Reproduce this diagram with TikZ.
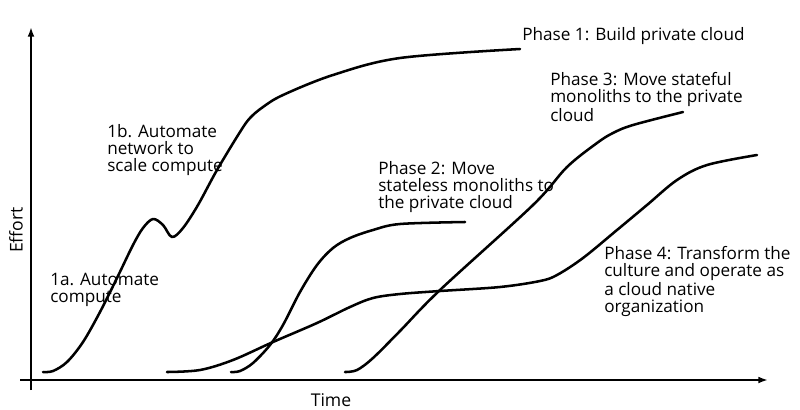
\documentclass[tikz,border=0pt]{standalone}
\usepackage{fontspec}
\setmainfont{Open Sans}
\usetikzlibrary{arrows.meta}
\definecolor{Ink}{RGB}{0,0,0}
\tikzset{
  >=Latex,
  axis/.style={line width=1.5pt,draw=Ink,-{Latex[length=2.4mm,width=1.7mm]}},
  curve/.style={line width=1.8pt,draw=Ink,line cap=round,line join=round},
  note/.style={font=\fontsize{12.2pt}{11.9pt}\selectfont,text=Ink,align=left,inner sep=0pt,anchor=base west},
  axislabel/.style={font=\fontsize{12.5pt}{13pt}\selectfont,text=Ink,inner sep=0pt}
}

\begin{document}
\begin{tikzpicture}[x=0.025cm,y=-0.025cm]
  \useasboundingbox (0,0) rectangle (800,409);
  % axes
  \coordinate (xfrom) at (20,380);
  \coordinate (xto) at (768,380);
  \coordinate (yfrom) at (31,390);
  \coordinate (yto) at (31,27);
  \draw[axis] (xfrom)--(xto);
  \draw[axis] (yfrom)--(yto);
  \node[axislabel,rotate=90] (effort) at (16,230) {Effort};
  \node[axislabel] (time) at (331,400) {Time};
  % phase 1: build private cloud
  \draw[curve] plot[smooth,tension=0.55] coordinates {(43,372) (53,371) (67,362) (83,342) (100,312) (117,278) (133,245) (143,228) (153,219) (163,225) (172,237) (183,228) (198,205) (217,170) (240,132) (250,118) (263,107) (283,95) (333,75) (400,58) (520,49)};
  % phase 2: stateless monoliths
  \draw[curve] plot[smooth,tension=0.55] coordinates {(231,372) (240,371) (253,363) (270,345) (283,325) (300,292) (317,265) (333,248) (350,238) (373,230) (400,224) (465,222)};
  % phase 3: stateful monoliths
  \draw[curve] plot[smooth,tension=0.55] coordinates {(345,372) (357,370) (373,358) (400,331) (440,290) (533,205) (567,167) (597,143) (613,133) (633,125) (683,112)};
  % phase 4: cloud native culture
  \draw[curve] plot[smooth,tension=0.55] coordinates {(167,372) (200,370) (233,360) (273,342) (317,323) (350,307) (373,298) (400,294) (440,291) (500,287) (540,281) (557,275) (583,258) (617,230) (647,205) (677,180) (707,165) (757,155)};
  % labels (placed by the baseline of their last line)
  \node[note] (ph1) at (522,40) {Phase 1: Build private cloud};
  \node[note] (ph3) at (550,121) {Phase 3: Move stateful\\monoliths to the private\\cloud};
  \node[note] (ph2) at (378,208) {Phase 2: Move\\stateless monoliths to\\the private cloud};
  \node[note] (s1b) at (107,171) {1b. Automate\\network to\\scale compute};
  \node[note] (s1a) at (50,302) {1a. Automate\\compute};
  \node[note] (ph4) at (604,312) {Phase 4: Transform the\\culture and operate as\\a cloud native\\organization};
\end{tikzpicture}
\end{document}
